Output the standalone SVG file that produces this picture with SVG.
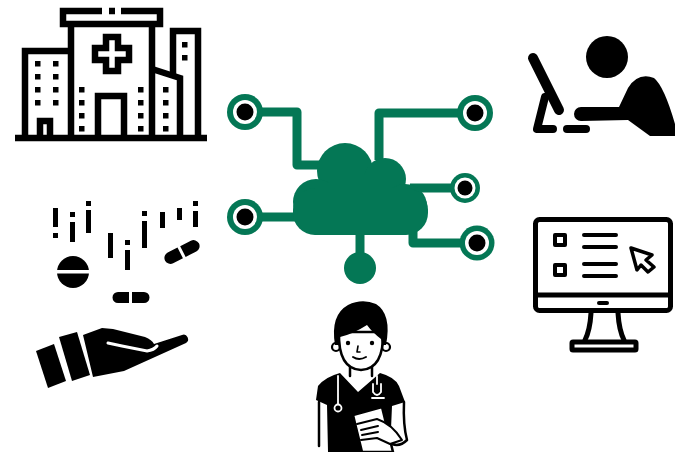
<svg xmlns="http://www.w3.org/2000/svg" width="675" height="452" viewBox="0 0 675 452">
  <style>
    .ln { fill: none; stroke: #000; stroke-linecap: round; stroke-linejoin: round; }
    .hs { stroke-width: 6.5; stroke-linecap: butt; stroke-linejoin: miter; }
    .blk { fill: #000; }
    .wht { fill: #fff; }
    .grn { fill: #047755; }
    .wire { fill: none; stroke: #047755; stroke-width: 9; stroke-linejoin: round; stroke-linecap: butt; }
  </style>
  <defs>
    <rect id="win" width="5.5" height="5.5" fill="#000"/>
  </defs>
  <rect width="675" height="452" fill="#fff"/>

  <!-- hospital -->
  <g id="hospital">
    <path class="ln hs" d="M15 138 H207"/>
    <path class="ln hs" d="M102 11 H63 V24 H160 V11 H121 M109 11 H115"/>
    <path class="ln hs" d="M71 24 V138 M152 24 V138"/>
    <path class="ln hs" d="M71 51 H25 V138"/>
    <path class="ln hs" d="M152 69 L180 78 V138"/>
    <path class="ln hs" d="M173 78 V31 H198 V138"/>
    <path class="ln hs" d="M106 37 H118 V48 H129 V60 H118 V71 H106 V60 H95 V48 H106 Z"/>
    <path class="ln hs" d="M98 138 V96 H124 V138"/>
    <path class="ln hs" d="M40 138 V121 H50 V138"/>
    <use href="#win" x="35" y="61"/><use href="#win" x="53" y="61"/>
    <use href="#win" x="35" y="74"/><use href="#win" x="53" y="74"/>
    <use href="#win" x="35" y="87"/><use href="#win" x="53" y="87"/>
    <use href="#win" x="35" y="100"/><use href="#win" x="53" y="100"/>
    <use href="#win" x="79" y="87"/><use href="#win" x="138" y="87"/>
    <use href="#win" x="79" y="100"/><use href="#win" x="138" y="100"/>
    <use href="#win" x="79" y="113"/><use href="#win" x="138" y="113"/>
    <use href="#win" x="79" y="126"/><use href="#win" x="138" y="126"/>
    <use href="#win" x="163" y="87"/><use href="#win" x="163" y="100"/>
    <use href="#win" x="163" y="113"/><use href="#win" x="163" y="126"/>
    <use href="#win" x="182" y="42"/><use href="#win" x="182" y="55"/>
  </g>

  <!-- person working at a computer -->
  <g id="worker">
    <circle class="blk" cx="607" cy="57" r="21"/>
    <path class="blk" d="M581 107 L619 107 L628 88 Q638 72 654 78 Q664 86 675 124 L675 136 L650 136 L628 120 L581 121 A7 7 0 0 1 581 107 Z"/>
    <path class="ln" d="M533 58 L559 110" stroke-width="10"/>
    <path class="ln" d="M545 97 L537 129 H553" stroke-width="8"/>
    <rect class="blk" x="563" y="125" width="27" height="8" rx="4"/>
  </g>

  <!-- falling pills -->
  <g id="pills">
    <rect class="blk" x="53" y="208" width="5" height="19"/>
    <rect class="blk" x="53" y="233" width="5" height="5"/>
    <rect class="blk" x="70" y="212" width="5" height="5"/>
    <rect class="blk" x="70" y="222" width="5" height="20"/>
    <rect class="blk" x="86" y="201" width="5" height="5"/>
    <rect class="blk" x="86" y="210" width="5" height="23"/>
    <rect class="blk" x="108" y="233" width="5" height="25"/>
    <rect class="blk" x="125" y="240" width="5" height="5"/>
    <rect class="blk" x="125" y="250" width="5" height="20"/>
    <rect class="blk" x="142" y="211" width="5" height="5"/>
    <rect class="blk" x="142" y="221" width="5" height="27"/>
    <rect class="blk" x="160" y="212" width="5" height="16"/>
    <rect class="blk" x="177" y="208" width="5" height="12"/>
    <rect class="blk" x="193" y="201" width="5" height="5"/>
    <rect class="blk" x="193" y="211" width="5" height="16"/>
    <circle class="blk" cx="73" cy="272" r="16"/>
    <rect class="wht" x="55" y="270" width="36" height="3.5"/>
    <path class="blk" d="M129 292 H118 A5.5 5.5 0 0 0 118 303 H129 Z M132 292 H144 A5.5 5.5 0 0 1 144 303 H132 Z"/>
    <g transform="rotate(-27 182 252)">
      <path class="blk" d="M180 246 H169 A6 6 0 0 0 169 258 H180 Z M183 246 H195 A6 6 0 0 1 195 258 H183 Z"/>
    </g>
  </g>

  <!-- giving hand -->
  <g id="hand">
    <path class="blk" d="M36 351 L54 344 L66 381 L48 388 Z"/>
    <path class="blk" d="M59 337 L77 332 L90 375 L72 381 Z"/>
    <path class="blk" d="M83 335 L102 328 L113 329 L145 337 Q152 340 154 344 L182 335 A4.5 4.5 0 0 1 186 343 L124 371 L93 377 Z"/>
    <path fill="none" stroke="#fff" stroke-width="3" stroke-linecap="round" d="M108 343 L122 346 L147 351 Q154 350 157 346"/>
  </g>

  <!-- computer with checklist -->
  <g id="monitor">
    <rect class="ln" x="535.5" y="219.5" width="135" height="91" rx="4" stroke-width="5"/>
    <path class="ln" d="M536 295 H670" stroke-width="5"/>
    <path class="ln" d="M599 303 H607" stroke-width="4"/>
    <path class="ln" d="M591 313 Q590 330 585 340 M618 313 Q619 330 624 340" stroke-width="5"/>
    <rect class="ln" x="572" y="342" width="64" height="8" rx="1" stroke-width="5"/>
    <rect class="ln" x="555" y="235" width="10" height="10" stroke-width="4"/>
    <rect class="ln" x="555" y="265" width="10" height="10" stroke-width="4"/>
    <path class="ln" d="M584 235 H616 M584 247 H616 M584 264 H616 M584 276 H616" stroke-width="4"/>
    <path class="ln" d="M631 248 L652 255 L646 260 L654 267 L648 272 L641 265 L637 270 Z" stroke-width="3.5"/>
  </g>

  <!-- nurse -->
  <g id="nurse">
    <path class="blk" d="M318 386 Q325 377 340 373 L358 392 L380 373 Q395 377 399 386 L405 402 L392 406 L390 452 L328 452 L327 405 L316 400 Z"/>
    <path class="ln" d="M319 402 V446" stroke-width="2.5"/>
    <path class="ln" d="M404 402 Q403 425 407 440 Q400 447 392 444" stroke-width="2.5"/>
    <path d="M353 415 L382 407 L393 452 L362 452 Z" fill="#fff" stroke="#000" stroke-width="2.5" stroke-linejoin="round"/>
    <path d="M357 424 L377 419 Q392 424 402 440 L390 444 L377 438 L361 440 M361 430 L378 426 M362 435 L378 432" fill="#fff" stroke="#000" stroke-width="2" stroke-linejoin="round" stroke-linecap="round"/>
    <path d="M350 364 V376 M372 364 V376" class="ln" stroke-width="2.5"/>
    <circle cx="336" cy="347" r="4" fill="#fff" stroke="#000" stroke-width="2.2"/>
    <circle cx="386" cy="347" r="4" fill="#fff" stroke="#000" stroke-width="2.2"/>
    <path d="M339 332 Q338 369 361 370 Q384 369 383 332 Z" fill="#fff" stroke="#000" stroke-width="2.5"/>
    <path class="blk" d="M335 345 Q330 315 348 305 Q362 298 376 304 Q392 314 386 345 L382 345 L381 339 Q372 332 367 325 Q353 334 340 337 L339 345 Z"/>
    <circle class="blk" cx="348" cy="343" r="2.2"/>
    <circle class="blk" cx="372" cy="343" r="2.2"/>
    <path class="ln" d="M358 346 L357 352 L360 352" stroke-width="1.6"/>
    <path class="ln" d="M353 357 Q359 361 366 357" stroke-width="2"/>
    <path fill="none" stroke="#fff" stroke-width="1.8" stroke-linecap="round" d="M338 376 V404 M377 376 V384 M373 384 V392 Q377 398 381 392 V384 M372 398 H384"/>
    <circle cx="338" cy="408" r="3.5" fill="#000" stroke="#fff" stroke-width="1.8"/>
  </g>

  <!-- cloud network -->
  <g id="connectors">
    <path class="wire" d="M245 112 H297 V165 H330"/>
    <path class="wire" d="M475 113 H379 V160"/>
    <path class="wire" d="M410 188 H465"/>
    <path class="wire" d="M413 220 V243 H477"/>
    <path class="wire" d="M245 217 H310"/>
    <path class="wire" d="M360 225 V268"/>
  </g>
  <g id="cloud">
    <circle class="grn" cx="345" cy="171" r="28"/>
    <circle class="grn" cx="385" cy="179" r="21"/>
    <circle class="grn" cx="316" cy="202" r="23"/>
    <circle class="grn" cx="405" cy="206" r="22"/>
    <rect class="grn" x="293" y="188" width="135" height="47" rx="22"/>
    <rect class="grn" x="330" y="175" width="60" height="30"/>
  </g>
  <g id="node-tl">
    <circle class="grn" cx="245" cy="112" r="18"/><circle class="wht" cx="245" cy="112" r="12"/><circle class="blk" cx="245" cy="112" r="8.5"/>
  </g>
  <g id="node-ml">
    <circle class="grn" cx="245" cy="217" r="18"/><circle class="wht" cx="245" cy="217" r="12"/><circle class="blk" cx="245" cy="217" r="8.5"/>
  </g>
  <g id="node-tr">
    <circle class="grn" cx="475" cy="113" r="18"/><circle class="wht" cx="475" cy="113" r="12"/><circle class="blk" cx="475" cy="113" r="8.5"/>
  </g>
  <g id="node-mr">
    <circle class="grn" cx="465" cy="188" r="15"/><circle class="wht" cx="465" cy="188" r="10.5"/><circle class="blk" cx="465" cy="188" r="7.5"/>
  </g>
  <g id="node-br">
    <circle class="grn" cx="477" cy="243" r="17.5"/><circle class="wht" cx="477" cy="243" r="12"/><circle class="blk" cx="477" cy="243" r="8.5"/>
  </g>
  <g id="node-b">
    <circle class="grn" cx="360" cy="268" r="16"/>
  </g>
</svg>
